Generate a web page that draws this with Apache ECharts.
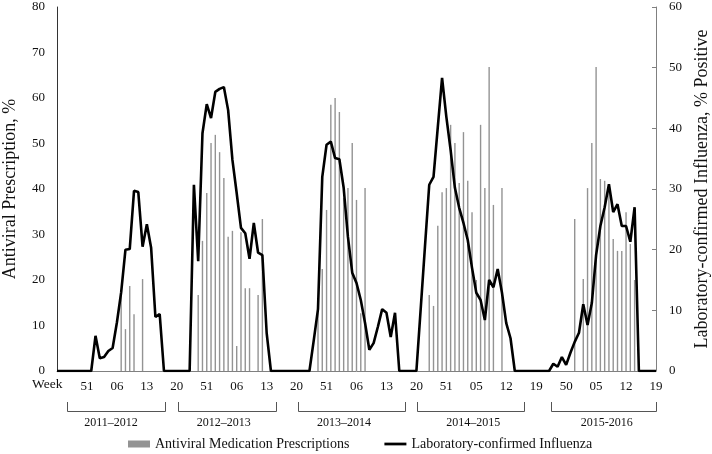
<!DOCTYPE html>
<html><head><meta charset="utf-8">
<script src="https://cdn.jsdelivr.net/npm/echarts@6/dist/echarts.min.js"></script>
<style>html,body{margin:0;padding:0;background:#fff}#c{width:712px;height:454px}</style>
</head><body><div id="c"></div>
<script>
function range(a, b) { var r = []; for (var i = a; i <= b; i++) r.push(i); return r; }

// Surveillance weeks shown on the axis (off-season weeks are omitted)
var weeks = [].concat(
  range(44, 52), range(1, 20),   // 2011-2012
  range(45, 52), range(1, 20),   // 2012-2013
  range(45, 52), range(1, 20),   // 2013-2014
  range(45, 53), range(1, 19),   // 2014-2015
  range(44, 52), range(1, 19)    // 2015-2016
);
var weekLabels = weeks.map(function (w) { return (w < 10 ? '0' : '') + w; });

var seasons = ['2011–2012', '2012–2013', '2013–2014', '2014–2015', '2015-2016'];
// bracket extents under each season, in category units, and label centres
var seasonSpans = [[2.3, 25.2], [28.3, 51.2], [56.3, 81.3], [84.1, 109.1], [115.5, 140]];
var seasonLabelAt = [12.6, 39.0, 67.1, 97.3, 128.5];

// Antiviral prescriptions, % (left axis)
var rx1112 = [null,null,null,null,null,null,null,null,null,null,null,null,null,null,null,
  17, 9.2, 18.7, 12.5, null, 20.2, null,null,null,null,null,null,null,null];
var rx1213 = [null,null,null,null, 16.7, 28.6, 39.1, 50.1, 51.9, 48.1, 42.4, 29.5, 30.8, 5.5, 30.5,
  18.2, 18.2, null, 16.7, 33.4, null,null,null,null,null,null,null,null];
var rx1314 = [null,null,null,null, 13, 22.4, 35.4, 58.5, 60, 56.9, 38, 40.2, 50.1, 37.6, 12.7, 40.2,
  null,null,null,null,null,null,null,null,null,null,null,null];
var rx1415 = [null,null, 16.7, 14.3, 31.9, 39.3, 40.2, 54.1, 50.1, 41.3, 52.5, 41.8, 34.9, 20, 54.1,
  40.2, 66.8, 36.5, null, 40.2, null,null,null,null,null,null,null,null];
var rx1516 = [null,null,null,null,null,null,null,null, 33.4, null, 20.2, 40.2, 50.1, 66.8, 42.2, 41.8,
  41, 29, 26.4, 26.4, 34.9, 27.9, 20, null,null,null,null,null];

// Laboratory-confirmed influenza, % positive (right axis)
var flu1112 = [0,0,0,0,0,0,0,0,0, 5.8, 2.1, 2.3, 3.3, 3.8, 8, 13, 20, 20.1, 29.7, 29.5, 20.5, 24.2,
  20.3, 8.9, 9.4, 0,0,0,0];
var flu1213 = [0,0,0, 30.7, 18.1, 39.2, 44, 41.7, 46, 46.5, 46.8, 43, 34.8, 29.3, 23.6, 22.7, 18.5,
  24.4, 19.5, 19.1, 6.3, 0,0,0,0,0,0,0];
var flu1314 = [0,0,0, 5, 10.2, 32, 37.3, 37.8, 35.1, 34.9, 30.2, 22.1, 16.2, 14.5, 11.7, 7.9, 3.5,
  4.6, 7.3, 10.2, 9.6, 5.6, 9.6, 0,0,0,0,0];
var flu1415 = [10.2, 20.5, 30.7, 32, 40.2, 48.3, 41.9, 36.4, 30.2, 26.9, 24.4, 21.6, 17, 12.9, 11.7,
  8.4, 15, 13.8, 16.8, 12.9, 7.9, 5.4, 0,0,0,0,0,0];
var flu1516 = [0,0,0, 1.2, 0.7, 2.3, 1, 3, 4.8, 6.3, 11, 7.6, 11.2, 19.1, 23.9, 27, 30.8, 26.2, 27.5,
  23.9, 23.9, 21.3, 27, 0,0,0,0,0];

var prescriptions = [].concat(rx1112, rx1213, rx1314, rx1415, rx1516);
var influenza = [].concat(flu1112, flu1213, flu1314, flu1415, flu1516);

var FONT = '"Liberation Serif", "Times New Roman", serif';
var chart = echarts.init(document.getElementById('c'), null, { renderer: 'canvas' });
chart.setOption({
  animation: false,
  backgroundColor: '#fff',
  grid: { left: 57, right: 56, top: 7, bottom: 83, containLabel: false, outerBoundsMode: 'none' },
  legend: {
    left: 123, top: 432, itemWidth: 22, itemHeight: 7, itemGap: 35,
    textStyle: { fontFamily: FONT, fontSize: 14, color: '#111' },
    data: [
      { name: 'Antiviral Medication Prescriptions', icon: 'rect' },
      { name: 'Laboratory-confirmed Influenza', icon: 'path://M0,0H24V3H0Z' }
    ]
  },
  xAxis: {
    type: 'category', data: weekLabels, boundaryGap: false,
    axisLine: { lineStyle: { color: '#808080', width: 1 } },
    axisTick: { show: false },
    splitLine: { show: false },
    axisLabel: {
      interval: function (i) { return i > 0 && i % 7 === 0; },
      margin: 9, fontFamily: FONT, fontSize: 13, color: '#111'
    }
  },
  yAxis: [{
    type: 'value', min: 0, max: 80, interval: 10, position: 'left',
    name: 'Antiviral Prescription, %', nameLocation: 'middle', nameRotate: 90, nameGap: 38,
    nameTextStyle: { fontFamily: FONT, fontSize: 18, color: '#111' },
    axisLine: { show: true, lineStyle: { color: '#333' } },
    axisTick: { show: false },
    splitLine: { show: false },
    axisLabel: { margin: 12, fontFamily: FONT, fontSize: 13, color: '#111' }
  }, {
    type: 'value', min: 0, max: 60, interval: 10, position: 'right',
    name: 'Laboratory-confirmed Influenza, % Positive', nameLocation: 'middle', nameRotate: 90, nameGap: 37,
    nameTextStyle: { fontFamily: FONT, fontSize: 18, color: '#111' },
    axisLine: { show: true, lineStyle: { color: '#808080' } },
    axisTick: { show: true, inside: true, length: 4, lineStyle: { color: '#808080' } },
    splitLine: { show: false },
    axisLabel: { margin: 13, fontFamily: FONT, fontSize: 13, color: '#111' }
  }],
  series: [{
    name: 'Antiviral Medication Prescriptions', type: 'bar', yAxisIndex: 0,
    data: prescriptions, barWidth: 1.4, itemStyle: { color: '#939393' }, z: 2
  }, {
    name: 'Laboratory-confirmed Influenza', type: 'line', yAxisIndex: 1,
    data: influenza, showSymbol: false, symbol: 'none',
    lineStyle: { color: '#000', width: 2.6 }, itemStyle: { color: '#000' }, z: 3
  }]
});

// Season brackets and labels below the week axis
var x0 = chart.convertToPixel({ xAxisIndex: 0 }, 0);
var x1 = chart.convertToPixel({ xAxisIndex: 0 }, weeks.length - 1);
var step = (x1 - x0) / (weeks.length - 1);
var els = [{
  type: 'text', left: 32, top: 377,
  style: { text: 'Week', font: '13.5px ' + FONT, fill: '#111' }
}];
seasonSpans.forEach(function (s, i) {
  var a = Math.round(x0 + s[0] * step) + 0.5, b = Math.round(x0 + s[1] * step) + 0.5;
  els.push({ type: 'polyline', shape: { points: [[a, 402], [a, 411.5], [b, 411.5], [b, 402]] },
    style: { stroke: '#555', lineWidth: 1, fill: null } });
  els.push({ type: 'text', x: x0 + seasonLabelAt[i] * step, y: 423,
    style: { text: seasons[i], font: '12px ' + FONT, fill: '#111', align: 'center', verticalAlign: 'middle' } });
});
chart.setOption({ graphic: els });
</script></body></html>
